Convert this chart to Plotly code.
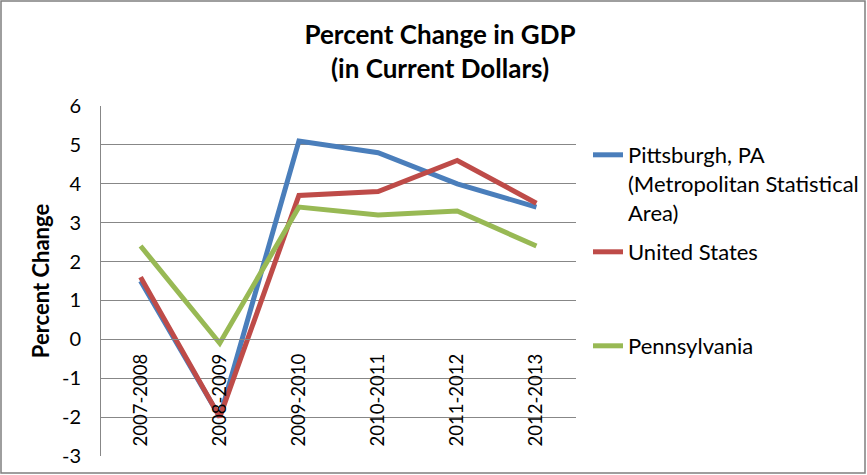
import plotly.graph_objects as go

# Data
periods = ['2007-2008', '2008-2009', '2009-2010', '2010-2011', '2011-2012', '2012-2013']
pittsburgh = [1.5, -2.0, 5.1, 4.8, 4.0, 3.4]
united_states = [1.6, -2.0, 3.7, 3.8, 4.6, 3.5]
pennsylvania = [2.4, -0.1, 3.4, 3.2, 3.3, 2.4]

y_ticks = [-3, -2, -1, 0, 1, 2, 3, 4, 5, 6]
y_tick_labels = [str(v) for v in y_ticks]  # plain hyphen minus, as in the original

y_min, y_max = y_ticks[0], y_ticks[-1]
font_family = 'Lato, Carlito, Calibri, sans-serif'
grid_color = '#878787'

fig = go.Figure()
fig.add_trace(go.Scatter(x=periods, y=pittsburgh, mode='lines',
                         name='Pittsburgh, PA<br>(Metropolitan Statistical<br>Area)',
                         line=dict(color='#4A7EBB', width=5), legend='legend'))
fig.add_trace(go.Scatter(x=periods, y=united_states, mode='lines', name='United States',
                         line=dict(color='#BE4B48', width=5), legend='legend2'))
fig.add_trace(go.Scatter(x=periods, y=pennsylvania, mode='lines', name='Pennsylvania',
                         line=dict(color='#98B954', width=5), legend='legend3'))

# page body margin is removed below, so figure pixels == window pixels
W, H = 867, 475
ml, mr, mt, mb = 101, 291, 106, 19
pw, ph = W - ml - mr, H - mt - mb


def px_x(p):
    return (p - ml) / pw


def px_y(p):
    return (mt + ph - p) / ph


# chart border around the whole picture
fig.add_shape(type='rect', xref='paper', yref='paper',
              x0=px_x(1), x1=px_x(W - 2), y0=px_y(H - 2), y1=px_y(1),
              line=dict(color='#7f7f7f', width=1.5), layer='below')

legend_style = dict(xanchor='left', yanchor='top', font=dict(size=22), valign='top',
                    bgcolor='rgba(0,0,0,0)')

fig.update_layout(
    width=W, height=H,
    margin=dict(l=ml, r=mr, t=mt, b=mb, autoexpand=False),
    paper_bgcolor='white', plot_bgcolor='white',
    font=dict(family=font_family, color='black'),
    title=dict(text='<b>Percent Change in GDP<br>(in Current Dollars)</b>',
               x=440 / W, xanchor='center', yref='container', y=1 - 44 / H, yanchor='top',
               font=dict(size=26, color='black'), automargin=False),
    legend=dict(x=px_x(588), y=px_y(134), **legend_style),
    legend2=dict(x=px_x(588), y=px_y(231), **legend_style),
    legend3=dict(x=px_x(588), y=px_y(325), **legend_style),
    showlegend=True,
)

fig.update_xaxes(
    anchor='free', position=(0 - y_min) / (y_max - y_min), range=[-0.5, len(periods) - 0.5],
    showgrid=False, showline=True, linecolor=grid_color, linewidth=1, automargin=False,
    ticks='', tickangle=-90, tickfont=dict(size=18.5), ticklabelstandoff=6,
)
fig.update_yaxes(
    range=[y_min, y_max], tickvals=y_ticks, ticktext=y_tick_labels,
    showgrid=True, gridcolor=grid_color, gridwidth=1, automargin=False,
    zeroline=False, showline=True, linecolor=grid_color, linewidth=1,
    ticks='', tickfont=dict(size=20), ticklabelstandoff=15,
    title=dict(text='<b>Percent Change</b>', font=dict(size=22), standoff=6),
)

fig.write_html('out.html', config={'displayModeBar': False},
               post_script="document.body.style.margin = '0';")
